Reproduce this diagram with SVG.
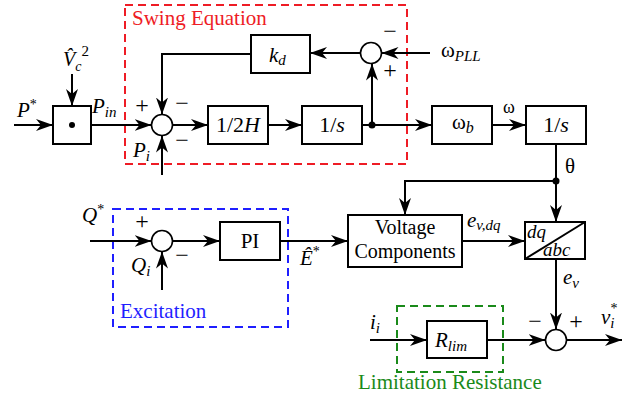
<svg xmlns="http://www.w3.org/2000/svg" width="641" height="403" viewBox="0 0 641 403">
<style>
.ln{fill:none;stroke:#000;stroke-width:2}
.ar{fill:none;stroke:#000;stroke-width:2;marker-end:url(#ah)}
.bx{fill:#fff;stroke:#000;stroke-width:2}
.sm{fill:#fff;stroke:#000;stroke-width:1.6}
.t{font-family:"Liberation Serif","Times New Roman",serif;fill:#000}
.i{font-style:italic}
.sg{font-family:"Liberation Serif",serif;font-size:24px;text-anchor:middle}
.rd{fill:none;stroke:#ee1c25;stroke-width:2;stroke-dasharray:8,5}
.bl{fill:none;stroke:#1f1fff;stroke-width:2;stroke-dasharray:8,5}
.gr{fill:none;stroke:#1a8a1a;stroke-width:2;stroke-dasharray:8,5}
</style>
<defs>
<marker id="ah" markerUnits="userSpaceOnUse" markerWidth="18" markerHeight="14" refX="17" refY="7" orient="auto">
<path d="M0,1 L17,7 L0,13 L5,7 Z" fill="#000"/>
</marker>
</defs>
<rect width="641" height="403" fill="#fff"/>

<g id="groups">
<rect class="rd" x="125" y="5" width="282" height="159"/>
<text class="t" x="132" y="25" font-size="21" style="fill:#ee1c25">Swing Equation</text>
<rect class="bl" x="113" y="209" width="175" height="118"/>
<text class="t" x="120" y="318" font-size="21" style="fill:#1f1fff">Excitation</text>
<rect class="gr" x="397" y="306" width="106" height="66"/>
<text class="t" x="358" y="389" font-size="21" style="fill:#1a8a1a">Limitation Resistance</text>
</g>

<g id="connectors">
<line class="ar" x1="14" y1="125" x2="53" y2="125"/>
<line class="ar" x1="72" y1="74" x2="72" y2="106"/>
<line class="ar" x1="91" y1="125" x2="151.5" y2="125"/>
<line class="ar" x1="172.5" y1="125" x2="208" y2="125"/>
<line class="ar" x1="268" y1="125" x2="302" y2="125"/>
<line class="ar" x1="362" y1="125" x2="432" y2="125"/>
<line class="ar" x1="372" y1="125" x2="372" y2="63.5"/>
<line class="ar" x1="430" y1="53" x2="381.5" y2="53"/>
<line class="ar" x1="360.5" y1="53" x2="310" y2="53"/>
<polyline class="ar" points="251,54 162,54 162,114.5"/>
<line class="ar" x1="162" y1="175" x2="162" y2="135.5"/>
<line class="ar" x1="492" y1="125" x2="526" y2="125"/>
<line class="ar" x1="556" y1="144" x2="556" y2="222"/>
<polyline class="ar" points="556,181 405,181 405,215"/>
<line class="ar" x1="90" y1="241" x2="151.5" y2="241"/>
<line class="ar" x1="162" y1="290" x2="162" y2="251.5"/>
<line class="ar" x1="172.5" y1="241" x2="220" y2="241"/>
<line class="ar" x1="280" y1="241" x2="348" y2="241"/>
<line class="ar" x1="462" y1="241" x2="525" y2="241"/>
<line class="ar" x1="556" y1="259" x2="556" y2="329.5"/>
<line class="ar" x1="370" y1="340" x2="427" y2="340"/>
<line class="ar" x1="487" y1="340" x2="545.5" y2="340"/>
<line class="ar" x1="566.5" y1="340" x2="622" y2="340"/>
<circle cx="372" cy="125" r="3.5" fill="#000"/>
<circle cx="556" cy="181" r="3.5" fill="#000"/>
</g>

<g id="inputs">
<text class="t i" x="17" y="117" font-size="21">P<tspan font-size="14" dy="-8" font-style="normal">*</tspan></text>
<text class="t i" x="63" y="66" font-size="20">V&#x302;<tspan font-size="14" dy="5">c</tspan><tspan font-size="15" dy="-15" font-style="normal">2</tspan></text>
</g>

<g id="product">
<rect class="bx" x="53" y="106" width="38" height="38"/>
<circle cx="72" cy="125" r="3" fill="#000"/>
<text class="t i" x="92" y="113" font-size="21">P<tspan font-size="15" dy="4">in</tspan></text>
</g>

<g id="sum1">
<circle class="sm" cx="162" cy="125" r="10.5"/>
<text class="sg" x="142" y="113">+</text>
<text class="sg" x="182" y="111">−</text>
<text class="sg" x="182" y="148">−</text>
<text class="t i" x="133" y="157" font-size="21">P<tspan font-size="15" dy="4">i</tspan></text>
</g>

<g id="kd">
<rect class="bx" x="251" y="35" width="59" height="38"/>
<text class="t i" x="269" y="62" font-size="21">k<tspan font-size="15" dy="3">d</tspan></text>
</g>

<g id="sum2">
<circle class="sm" cx="371" cy="53" r="10.5"/>
<text class="sg" x="390" y="39">−</text>
<text class="sg" x="390" y="78">+</text>
<text class="t" x="441" y="57" font-size="21">ω<tspan font-size="15" font-style="italic" dy="4">PLL</tspan></text>
</g>

<g id="gain2h">
<rect class="bx" x="208" y="106" width="60" height="38"/>
<text class="t" x="238" y="132" font-size="22" text-anchor="middle">1/2<tspan font-style="italic">H</tspan></text>
</g>

<g id="int1">
<rect class="bx" x="302" y="106" width="60" height="38"/>
<text class="t" x="332" y="132" font-size="22" text-anchor="middle">1/<tspan font-style="italic">s</tspan></text>
</g>

<g id="wb">
<rect class="bx" x="432" y="106" width="60" height="38"/>
<text class="t" x="452" y="129" font-size="21">ω<tspan font-size="16" font-style="italic" dy="4">b</tspan></text>
<text class="t" x="503" y="113" font-size="18">ω</text>
</g>

<g id="int2">
<rect class="bx" x="526" y="106" width="60" height="38"/>
<text class="t" x="556" y="132" font-size="22" text-anchor="middle">1/<tspan font-style="italic">s</tspan></text>
<text class="t" x="565" y="173" font-size="21">θ</text>
</g>

<g id="sumq">
<circle class="sm" cx="162" cy="241" r="10.5"/>
<text class="t i" x="82" y="222" font-size="21">Q<tspan font-size="14" dy="-8" font-style="normal">*</tspan></text>
<text class="sg" x="142" y="229">+</text>
<text class="sg" x="182" y="263">−</text>
<text class="t i" x="131" y="272" font-size="21">Q<tspan font-size="15" dy="4">i</tspan></text>
</g>

<g id="pi">
<rect class="bx" x="220" y="222" width="60" height="38"/>
<text class="t" x="250" y="248" font-size="21" text-anchor="middle">PI</text>
<text class="t i" x="300" y="265" font-size="21">E&#x302;<tspan font-size="14" dy="-9" font-style="normal">*</tspan></text>
</g>

<g id="voltage">
<rect class="bx" x="348" y="215" width="114" height="52"/>
<text class="t" x="405" y="234" font-size="20" text-anchor="middle">Voltage</text>
<text class="t" x="405" y="258" font-size="20" text-anchor="middle">Components</text>
<text class="t i" x="467" y="227" font-size="21">e<tspan font-size="15" dy="3">v,dq</tspan></text>
</g>

<g id="dqabc">
<rect class="bx" x="525" y="222" width="60" height="37"/>
<line class="ln" x1="525" y1="259" x2="585" y2="222"/>
<text class="t i" x="527" y="238" font-size="19">dq</text>
<text class="t i" x="543" y="256" font-size="19">abc</text>
<text class="t i" x="563" y="284" font-size="21">e<tspan font-size="15" dy="4">v</tspan></text>
</g>

<g id="rlim">
<rect class="bx" x="427" y="321" width="60" height="37"/>
<text class="t i" x="435" y="347" font-size="21">R<tspan font-size="15" dy="4">lim</tspan></text>
<text class="t i" x="370" y="329" font-size="21">i<tspan font-size="15" dy="4">i</tspan></text>
</g>

<g id="sum3">
<circle class="sm" cx="556" cy="340" r="10.5"/>
<text class="sg" x="535" y="329">−</text>
<text class="sg" x="576" y="329">+</text>
<text class="t i" x="601" y="324" font-size="21">v<tspan font-size="15" dy="4">i</tspan><tspan font-size="14" dx="-4" dy="-15" font-style="normal">*</tspan></text>
</g>
</svg>
